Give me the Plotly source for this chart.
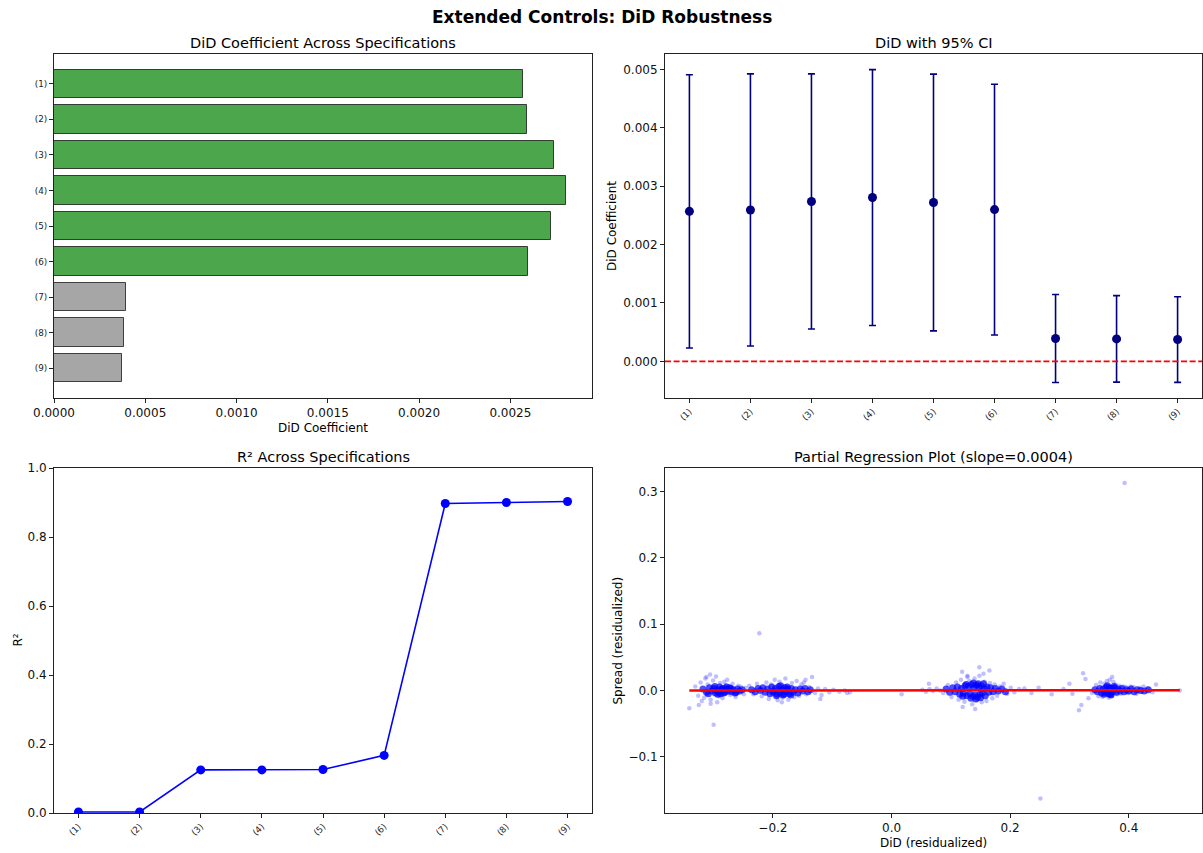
import plotly.graph_objects as go

# ---- specification results -------------------------------------------------
spec_labels = ["(1)", "(2)", "(3)", "(4)", "(5)", "(6)", "(7)", "(8)", "(9)"]
did_coef = [0.002568, 0.002592, 0.002737, 0.002805, 0.002720, 0.002598, 0.000392, 0.000385, 0.000374]
ci_half = [0.002338, 0.002329, 0.002184, 0.002190, 0.002198, 0.002147, 0.000753, 0.000741, 0.000733]
r_squared = [0.003, 0.003, 0.125, 0.125, 0.126, 0.167, 0.897, 0.900, 0.903]
spec_group = ["base", "base", "base", "base", "base", "base", "fe", "fe", "fe"]

# ---- partial regression residuals ------------------------------------------
core_x = [-0.318, -0.312, -0.307, -0.303, -0.300, -0.297, -0.295, -0.292, -0.290, -0.288,
          -0.286, -0.284, -0.281, -0.279, -0.276, -0.273, -0.270, -0.267, -0.264, -0.260,
          -0.256, -0.252, -0.309, -0.298, -0.293, -0.287, -0.283, -0.278, -0.271, -0.262,
          -0.236, -0.230, -0.225, -0.221, -0.217, -0.213, -0.209, -0.205, -0.202, -0.199,
          -0.196, -0.193, -0.190, -0.188, -0.185, -0.183, -0.180, -0.178, -0.175, -0.172,
          -0.169, -0.166, -0.162, -0.158, -0.154, -0.150, -0.146, -0.141, -0.137, -0.194,
          -0.187, -0.181, -0.176, -0.170, -0.200,
          0.092, 0.098, 0.103, 0.107, 0.111, 0.115, 0.118, 0.121, 0.124, 0.127,
          0.130, 0.132, 0.135, 0.137, 0.139, 0.141, 0.143, 0.145, 0.147, 0.149,
          0.151, 0.153, 0.156, 0.158, 0.161, 0.164, 0.167, 0.171, 0.175, 0.180,
          0.186, 0.192, 0.134, 0.138, 0.142, 0.146, 0.150, 0.126, 0.155, 0.120,
          0.343, 0.347, 0.351, 0.354, 0.357, 0.360, 0.362, 0.365, 0.367, 0.369,
          0.371, 0.373, 0.376, 0.379, 0.382, 0.385, 0.388, 0.392, 0.396, 0.400,
          0.404, 0.409, 0.414, 0.420, 0.426, 0.433, 0.364, 0.370, 0.375, 0.358]
core_y = [0.002, -0.003, 0.004, -0.001, 0.003, -0.004, 0.001, -0.002, 0.005, -0.005,
          0.000, 0.003, -0.003, 0.002, -0.001, 0.004, -0.002, 0.001, -0.004, 0.002,
          -0.001, 0.001, -0.005, 0.006, -0.006, 0.002, -0.004, 0.005, 0.003, -0.003,
          0.001, -0.002, 0.003, 0.000, 0.004, -0.003, 0.002, -0.005, 0.005, -0.001,
          0.003, -0.006, 0.006, -0.004, 0.001, -0.007, 0.004, -0.002, 0.002, -0.005,
          0.003, -0.003, 0.001, -0.004, 0.002, -0.001, 0.003, -0.002, 0.001, -0.008,
          0.007, -0.006, 0.005, -0.007, -0.003,
          0.002, -0.003, 0.004, -0.002, 0.005, -0.006, 0.003, -0.004, 0.007, -0.008,
          0.006, -0.005, 0.009, -0.009, 0.004, -0.007, 0.008, -0.010, 0.005, -0.006,
          0.007, -0.004, 0.003, -0.008, 0.005, -0.003, 0.004, -0.002, 0.003, -0.001,
          0.002, -0.002, -0.012, 0.011, -0.013, 0.010, -0.011, 0.009, 0.010, -0.009,
          0.001, -0.002, 0.003, -0.004, 0.002, -0.003, 0.005, -0.005, 0.004, -0.006,
          0.003, -0.002, 0.004, -0.003, 0.002, -0.001, 0.003, -0.002, 0.001, -0.001,
          0.002, -0.002, 0.001, 0.000, -0.001, 0.001, 0.007, -0.007, 0.006, -0.006]

halo_x = [-0.331, -0.326, -0.322, -0.316, -0.314, -0.310, -0.305, -0.301, -0.296, -0.291,
          -0.289, -0.285, -0.280, -0.277, -0.272, -0.268, -0.263, -0.258, -0.254, -0.249,
          -0.246, -0.320, -0.306, -0.294, -0.282,
          -0.240, -0.233, -0.227, -0.219, -0.211, -0.207, -0.203, -0.197, -0.192, -0.189,
          -0.184, -0.179, -0.174, -0.168, -0.164, -0.160, -0.156, -0.152, -0.148, -0.144,
          -0.139, -0.134, -0.129, -0.124, -0.118, -0.112, -0.105, -0.098, -0.088, -0.079,
          0.052, 0.058, 0.064, 0.070, 0.076, 0.082, 0.087, 0.095, 0.101, 0.109,
          0.113, 0.117, 0.123, 0.128, 0.131, 0.136, 0.140, 0.144, 0.148, 0.152,
          0.157, 0.160, 0.166, 0.170, 0.174, 0.178, 0.183, 0.189, 0.195, 0.201,
          0.207, 0.215, 0.224, 0.236, 0.248,
          0.338, 0.345, 0.349, 0.352, 0.356, 0.359, 0.363, 0.366, 0.368, 0.372,
          0.374, 0.378, 0.381, 0.384, 0.387, 0.391, 0.395, 0.399, 0.403, 0.408,
          0.413, 0.419, 0.425, 0.432, 0.440,
          -0.341, -0.300, -0.305, -0.325, -0.312, -0.223, -0.185, -0.120, -0.145, -0.075,
          -0.070, 0.119, 0.128, 0.148, 0.165, 0.155, 0.017, 0.120, 0.141, 0.063,
          0.270, 0.290, 0.300, 0.305, 0.251, 0.393, 0.323, 0.327, 0.320, 0.316,
          0.332, 0.372, 0.446, 0.486]
halo_y = [0.006, -0.008, 0.012, -0.011, 0.018, 0.009, -0.014, 0.015, 0.021, -0.009,
          0.011, -0.012, 0.008, 0.016, -0.007, 0.010, -0.010, 0.007, 0.005, -0.006,
          0.004, -0.016, 0.024, -0.018, 0.013,
          0.007, -0.006, 0.010, -0.009, 0.012, -0.013, 0.009, 0.016, -0.015, 0.013,
          -0.011, 0.018, -0.014, 0.011, -0.010, 0.014, -0.008, 0.009, 0.012, -0.006,
          0.005, 0.020, -0.004, 0.003, -0.007, 0.002, -0.003, 0.001, -0.002, 0.000,
          0.001, -0.002, 0.002, -0.001, 0.003, 0.000, -0.004, 0.008, -0.010, 0.012,
          -0.014, 0.016, -0.017, 0.020, 0.014, -0.021, 0.018, -0.015, 0.022, -0.018,
          0.013, -0.016, 0.011, -0.012, 0.009, -0.008, 0.006, 0.010, -0.005, 0.004,
          -0.003, 0.002, 0.003, -0.004, 0.004,
          -0.004, 0.008, -0.009, 0.012, -0.010, 0.010, 0.014, -0.011, 0.016, -0.008,
          0.013, 0.009, -0.006, 0.007, -0.005, 0.006, 0.005, -0.004, 0.006, 0.005,
          -0.005, 0.004, 0.006, 0.003, -0.003,
          -0.027, -0.052, -0.020, -0.022, 0.020, 0.086, -0.018, -0.013, 0.016, -0.004,
          -0.003, 0.028, 0.022, 0.035, 0.030, 0.025, -0.006, -0.025, -0.028, 0.010,
          -0.006, 0.002, 0.010, -0.005, -0.163, 0.313, 0.026, 0.017, -0.022, -0.030,
          -0.012, 0.020, 0.009, 0.000]

fit_slope = 0.0004
fit_intercept = 0.0

# ---- layout geometry (paper fractions) -------------------------------------
W, H = 1203, 853
left_dom = [54 / W, 592 / W]
right_dom = [665 / W, 1202 / W]
top_dom = [1 - 398 / H, 1 - 54 / H]
bot_dom = [1 - 813 / H, 1 - 468 / H]

FONT = "DejaVu Sans"
TICK = 12
SMALL = 8.8
TITLE = 14.5

idx = list(range(len(spec_labels)))

fig = go.Figure()

# Panel 1: horizontal bars of DiD coefficients
bar_fill = ["rgba(0,128,0,0.7)" if g == "base" else "rgba(128,128,128,0.7)" for g in spec_group]
fig.add_trace(go.Bar(
    x=did_coef, y=idx, orientation="h", width=0.8,
    marker=dict(color=bar_fill, line=dict(color="rgba(0,0,0,0.7)", width=1)),
    xaxis="x", yaxis="y", showlegend=False,
))

# Panel 2: point estimates with 95% CI
fig.add_trace(go.Scatter(
    x=idx, y=did_coef, mode="markers",
    marker=dict(color="navy", size=9),
    error_y=dict(type="data", array=ci_half, visible=True, color="navy", thickness=1.6, width=3.5),
    xaxis="x2", yaxis="y2", showlegend=False,
))

# Panel 3: R-squared by specification
fig.add_trace(go.Scatter(
    x=idx, y=r_squared, mode="lines+markers",
    line=dict(color="blue", width=1.6),
    marker=dict(color="blue", size=9),
    xaxis="x3", yaxis="y3", showlegend=False,
))

# Panel 4: partial regression scatter and fitted line
fig.add_trace(go.Scatter(
    x=halo_x, y=halo_y, mode="markers",
    marker=dict(color="blue", size=4.5, opacity=0.25, line=dict(width=0)),
    xaxis="x4", yaxis="y4", showlegend=False,
))
fig.add_trace(go.Scatter(
    x=core_x, y=core_y, mode="markers",
    marker=dict(color="blue", size=7, opacity=0.7, line=dict(width=0)),
    xaxis="x4", yaxis="y4", showlegend=False,
))
all_x = core_x + halo_x
line_x = [min(all_x), max(all_x)]
line_y = [fit_intercept + fit_slope * v for v in line_x]
fig.add_trace(go.Scatter(
    x=line_x, y=line_y, mode="lines",
    line=dict(color="red", width=2.5),
    xaxis="x4", yaxis="y4", showlegend=False,
))

# zero reference line on panel 2
fig.add_shape(type="line", xref="x2 domain", yref="y2", x0=0, x1=1, y0=0, y1=0,
              line=dict(color="red", width=1.6, dash="6px,2.6px"))

axis_common = dict(
    showline=True, mirror=True, linecolor="#222", linewidth=1,
    ticks="outside", ticklen=4, tickwidth=1, tickcolor="#222",
    showgrid=False, zeroline=False, automargin=False,
    tickfont=dict(family=FONT, size=TICK, color="#111"),
)
small_ticks = {**axis_common, "tickfont": dict(family=FONT, size=SMALL, color="#222")}

fig.update_layout(
    width=W, height=H,
    margin=dict(l=0, r=0, t=0, b=0, autoexpand=False),
    paper_bgcolor="white", plot_bgcolor="white",
    font=dict(family=FONT, color="#111"),
    bargap=0,
    xaxis=dict(domain=left_dom, anchor="y", range=[0, 0.002947],
               tickvals=[0, 0.0005, 0.001, 0.0015, 0.002, 0.0025], tickformat=".4f", **axis_common),
    yaxis=dict(domain=top_dom, anchor="x", range=[8.84, -0.84],
               tickvals=idx, ticktext=spec_labels, **small_ticks),
    xaxis2=dict(domain=right_dom, anchor="y2", range=[-0.4, 8.4],
                tickvals=idx, ticktext=spec_labels, tickangle=-45, **small_ticks),
    yaxis2=dict(domain=top_dom, anchor="x2", range=[-0.000627, 0.005262],
                tickvals=[0, 0.001, 0.002, 0.003, 0.004, 0.005], tickformat=".3f", **axis_common),
    xaxis3=dict(domain=left_dom, anchor="y3", range=[-0.4, 8.4],
                tickvals=idx, ticktext=spec_labels, tickangle=-45, **small_ticks),
    yaxis3=dict(domain=bot_dom, anchor="x3", range=[0, 1],
                tickvals=[0, 0.2, 0.4, 0.6, 0.8, 1.0], tickformat=".1f", **axis_common),
    xaxis4=dict(domain=right_dom, anchor="y4", range=[-0.382, 0.5235],
                tickvals=[-0.2, 0.0, 0.2, 0.4], tickformat=".1f", **axis_common),
    yaxis4=dict(domain=bot_dom, anchor="x4", range=[-0.185, 0.3355],
                tickvals=[-0.1, 0.0, 0.1, 0.2, 0.3], tickformat=".1f", **axis_common),
)


def label(text, x, y, size, angle=0, bold=False):
    fig.add_annotation(
        text=f"<b>{text}</b>" if bold else text,
        x=x, y=y, xref="paper", yref="paper",
        xanchor="center", yanchor="middle", showarrow=False, textangle=angle,
        font=dict(family=FONT, size=size, color="#000"),
    )


lc = (left_dom[0] + left_dom[1]) / 2
rc = (right_dom[0] + right_dom[1]) / 2
label("Extended Controls: DiD Robustness", 0.5, 1 - 17 / H, 17, bold=True)
label("DiD Coefficient Across Specifications", lc, 1 - 43 / H, TITLE)
label("DiD with 95% CI", rc, 1 - 43 / H, TITLE)
label("R² Across Specifications", lc, 1 - 457 / H, TITLE)
label(f"Partial Regression Plot (slope={fit_slope:.4f})", rc, 1 - 457 / H, TITLE)

label("DiD Coefficient", lc, 1 - 428 / H, TICK)
label("DiD (residualized)", rc, 1 - 843 / H, TICK)
label("DiD Coefficient", 612 / W, (top_dom[0] + top_dom[1]) / 2, TICK, angle=-90)
label("R²", 17 / W, (bot_dom[0] + bot_dom[1]) / 2, TICK, angle=-90)
label("Spread (residualized)", 617 / W, (bot_dom[0] + bot_dom[1]) / 2, TICK, angle=-90)

fig.write_html("out.html")
